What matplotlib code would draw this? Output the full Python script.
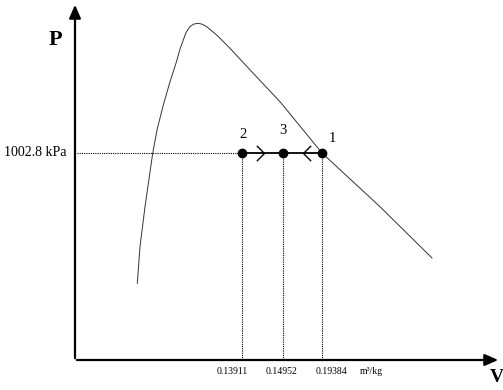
import matplotlib
matplotlib.use('Agg')
import matplotlib.pyplot as plt
from matplotlib.path import Path

plt.rcParams['font.family'] = ['Liberation Serif', 'DejaVu Serif']

# saturation dome (schematic units)
dome_x = [62.3, 65, 70, 77.7, 82, 88.3, 95, 101.7, 105, 108.3, 111, 115, 119,
          123.3, 127.5, 131.7, 141.7, 155, 176.7, 205, 247, 305, 357]
dome_y = [76.7, 113.3, 153.3, 206.7, 230, 255, 278.3, 299, 311, 320, 327.5, 333.5, 336,
          336.7, 335.7, 333.3, 325, 311.7, 288.3, 258.3, 207, 153.3, 102]

# states 2, 3, 1 at the same pressure
state_names = ['2', '3', '1']
state_x = [167, 208, 247]
p_level = 207
p_label = '1002.8 kPa'
v_labels = ['0.13911', '0.14952', '0.19384']
v_unit = 'm³/kg'

fig = plt.figure(figsize=(5.03, 3.90), dpi=100)
ax = fig.add_axes([0, 0, 1, 1])
ax.set_xlim(-75, 428)
ax.set_ylim(-30, 360)
ax.axis('off')

# axes with arrows
ax.annotate('', xy=(0, 358), xytext=(0, -1),
            arrowprops=dict(arrowstyle='-|>,head_length=0.8,head_width=0.35', color='black', lw=1.6))
ax.annotate('', xy=(426, 0), xytext=(-1, 0),
            arrowprops=dict(arrowstyle='-|>,head_length=0.8,head_width=0.35', color='black', lw=1.6))
ax.text(-20, 320, 'P', fontsize=16, fontweight='bold', ha='center', va='center')
ax.text(422, -18, 'V', fontsize=14, fontweight='bold', ha='center', va='center')

# dome
ax.plot(dome_x, dome_y, color='#333333', lw=0.7)

# dotted guide lines
ax.plot([2, state_x[0]], [p_level, p_level], color='black', lw=0.8, ls=(0, (1, 1)))
for x in state_x:
    ax.plot([x, x], [0, p_level], color='black', lw=0.8, ls=(0, (1, 1)))

ax.text(-9, p_level, p_label, fontsize=10, ha='right', va='center')

# process line and direction marks
ax.plot([state_x[0], state_x[2]], [p_level, p_level], color='black', lw=1.3)
chev_r = Path([(-1, 1), (0, 0), (-1, -1)], [Path.MOVETO, Path.LINETO, Path.LINETO])
chev_l = Path([(1, 1), (0, 0), (1, -1)], [Path.MOVETO, Path.LINETO, Path.LINETO])
ax.plot([(state_x[0] + state_x[1]) / 2 + 1], [p_level], marker=chev_r, ms=11,
        mfc='none', mec='black', mew=1.0)
ax.plot([(state_x[1] + state_x[2]) / 2 + 0], [p_level], marker=chev_l, ms=11,
        mfc='none', mec='black', mew=1.0)
ax.plot(state_x, [p_level] * 3, 'o', color='black', ms=6)

name_offsets = [(1, 18), (0, 22), (10, 14)]
for name, x, (dx, dy) in zip(state_names, state_x, name_offsets):
    ax.text(x + dx, p_level + dy, name, fontsize=10.5, ha='center', va='center')

label_offsets = [-10, -1, 10]
for lab, x, dx in zip(v_labels, state_x, label_offsets):
    ax.text(x + dx, -12, lab, fontsize=7, ha='center', va='center')
ax.text(296, -12, v_unit, fontsize=7, ha='center', va='center')

fig.savefig('out.png', dpi=100)
